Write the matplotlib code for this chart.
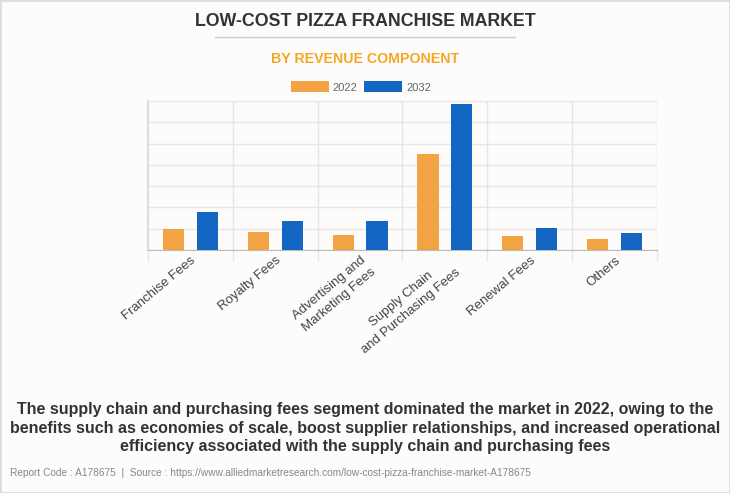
import numpy as np
import matplotlib
matplotlib.use('Agg')
import matplotlib.pyplot as plt
from matplotlib.patches import Rectangle
from matplotlib.lines import Line2D

plt.rcParams['font.family'] = ['Liberation Sans', 'DejaVu Sans']

categories = ['Franchise Fees', 'Royalty Fees', 'Advertising and\nMarketing Fees',
              'Supply Chain\nand Purchasing Fees', 'Renewal Fees', 'Others']
rev_2022 = [1.00, 0.84, 0.72, 4.50, 0.64, 0.53]
rev_2032 = [1.80, 1.36, 1.36, 6.84, 1.05, 0.81]

ORANGE = '#F2A444'
BLUE = '#1366C1'
BG = '#FDFCFB'

fig = plt.figure(figsize=(7.3, 4.93), dpi=100, facecolor=BG)
ax = fig.add_axes([148/730, 1-250/493, (657-148)/730, (250-101)/493], facecolor=BG)

x = np.arange(len(categories))
ax.bar(x - 0.2, rev_2022, width=0.25, color=ORANGE, label='2022', zorder=3)
ax.bar(x + 0.2, rev_2032, width=0.25, color=BLUE, label='2032', zorder=3)

ax.set_xlim(-0.5, len(categories) - 0.5)
ax.set_ylim(0, 7)
ax.set_yticks(np.arange(0, 8))
ax.yaxis.grid(True, color='#e6e6e6', lw=1)
ax.tick_params(axis='y', length=0, labelleft=False)

ax.set_xticks(x)
ax.set_xticklabels(categories, rotation=40, ha='right', va='top', ma='center',
                   rotation_mode='anchor', fontsize=9.5, color='#444444', linespacing=1.45)
ax.tick_params(axis='x', which='major', length=0, pad=3)
ax.set_xticks(np.arange(-0.5, len(categories)), minor=True)
ax.tick_params(axis='x', which='minor', length=8, color='#e6e6e6', width=1)
ax.xaxis.grid(True, which='minor', color='#e6e6e6', lw=1)
ax.set_axisbelow(True)

for s in ['top', 'right']:
    ax.spines[s].set_visible(False)
ax.spines['left'].set_color('#dddddd')
ax.spines['left'].set_linewidth(1.5)
ax.spines['bottom'].set_color('#bbbbbb')

# legend
ax.legend(loc='center', bbox_to_anchor=(361/730, 1-87/493), bbox_transform=fig.transFigure,
          ncol=2, frameon=False, fontsize=8, labelcolor='#666666',
          handlelength=3.4, handleheight=1.1, columnspacing=0.6, handletextpad=0.35)

# titles
fig.text(0.5, 1-21/493, 'LOW-COST PIZZA FRANCHISE MARKET', ha='center', va='center',
         fontsize=12.8, fontweight='bold', color='#333333')
fig.add_artist(Line2D([215/730, 515/730], [1-37/493, 1-37/493], color='#cccccc', lw=1))
fig.text(0.5, 1-59/493, 'BY REVENUE COMPONENT', ha='center', va='center',
         fontsize=10.2, fontweight='bold', color='#F5A623')

fig.text(0.5, 1-428/493,
         'The supply chain and purchasing fees segment dominated the market in 2022, owing to the\n'
         'benefits such as economies of scale, boost supplier relationships, and increased operational\n'
         'efficiency associated with the supply chain and purchasing fees',
         ha='center', va='center', fontsize=11.5, fontweight='bold', color='#333333',
         linespacing=1.3)
fig.text(10/730, 1-473/493,
         'Report Code : A178675  |  Source : https://www.alliedmarketresearch.com/low-cost-pizza-franchise-market-A178675',
         ha='left', va='center', fontsize=7.3, color='#888888')

fig.add_artist(Rectangle((0, 0), 1, 1, transform=fig.transFigure, fill=False,
                         edgecolor='#dddddd', lw=2))

fig.savefig('out.png', dpi=100, facecolor=BG)
